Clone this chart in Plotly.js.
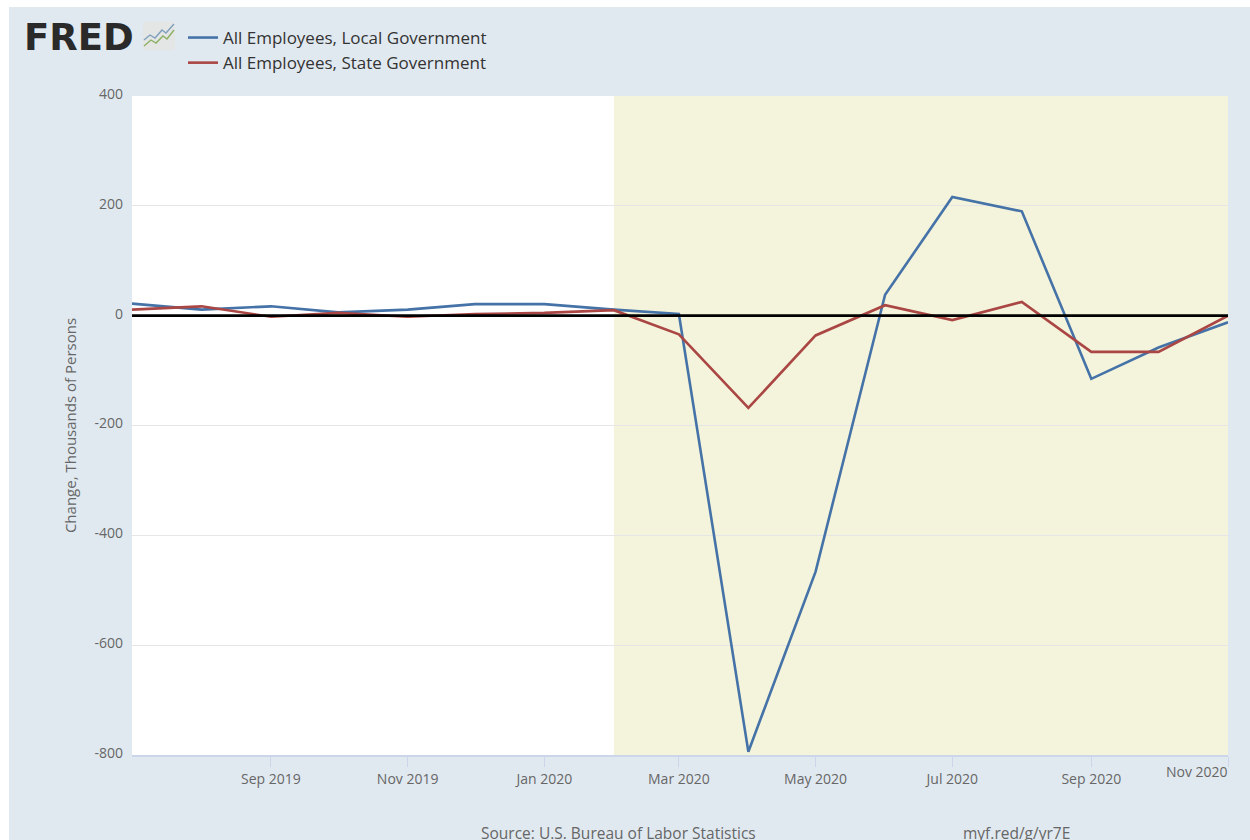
<!DOCTYPE html>
<html>
<head>
<meta charset="utf-8">
<script src="https://cdn.plot.ly/plotly-3.0.1.min.js"></script>
<style>
html,body{margin:0;padding:0;background:#fff;overflow:hidden;width:1250px;height:840px}
#chart{position:absolute;left:9px;top:7px;width:1241px;height:833px}
</style>
</head>
<body>
<div id="chart"></div>
<script>
const months = ['2019-07-01','2019-08-01','2019-09-01','2019-10-01','2019-11-01','2019-12-01','2020-01-01','2020-02-01','2020-03-01','2020-04-01','2020-05-01','2020-06-01','2020-07-01','2020-08-01','2020-09-01','2020-10-01','2020-11-01'];
const localGov = [22,11,17,6,11,21,21,11,3,-794,-466,38,216,190,-115,-58,-12];
const stateGov = [11,17,-2,5,-2,3,5,10,-34,-168,-36,19,-8,25,-66,-66,0];
const xTickVals = ['2019-09-01','2019-11-01','2020-01-01','2020-03-01','2020-05-01','2020-07-01','2020-09-01','2020-11-01'];
const xTickText = ['Sep 2019','Nov 2019','Jan 2020','Mar 2020','May 2020','Jul 2020','Sep 2020',''];
const lastTickLabel = 'Nov 2020';
const yTickVals = [-800,-600,-400,-200,0,200,400];
const yTickText = ['-800','-600','-400','-200','0','200','400'];
const recessionStart = '2020-02-01';
const recessionEnd = '2020-11-01';

const W = 1241, H = 833;
const m = {l:123, r:22, t:89, b:85};
const px = v => (v - m.l) / (W - m.l - m.r);
const py = v => (H - m.b - v) / (H - m.t - m.b);
const F = '"Open Sans", sans-serif';

const iconSvg = "<svg xmlns='http://www.w3.org/2000/svg' width='32' height='28'>" +
 "<rect x='0' y='0' width='32' height='28' rx='2' fill='#e4e6e6'/>" +
 "<polyline points='1,18 7,13 12,16 19,8 23,11 31,2' fill='none' stroke='#7fa0bd' stroke-width='1.4'/>" +
 "<polyline points='1,24 8,18 13,21 20,14 24,17 31,8' fill='none' stroke='#8cb063' stroke-width='1.4'/></svg>";

const traces = [
 {x:months, y:localGov, name:'All Employees, Local Government', type:'scatter', mode:'lines', line:{color:'#4572a7', width:2.6}, hoverinfo:'x+y'},
 {x:months, y:stateGov, name:'All Employees, State Government', type:'scatter', mode:'lines', line:{color:'#aa4643', width:2.6}, hoverinfo:'x+y'}
];

const layout = {
 width:W, height:H, margin:m,
 paper_bgcolor:'#e1e9f0', plot_bgcolor:'#ffffff',
 font:{family:F, color:'#666666', size:14},
 showlegend:true,
 legend:{x:px(174), y:py(13), xanchor:'left', yanchor:'top', bgcolor:'rgba(0,0,0,0)', orientation:'v',
   font:{family:F, size:17, color:'#333333'}, itemwidth:30, tracegroupgap:0},
 xaxis:{type:'date', range:[months[0], months[months.length-1]], tickmode:'array', tickvals:xTickVals, ticktext:xTickText,
   showgrid:false, zeroline:false, showline:true, linecolor:'#ccd6eb', linewidth:1.5,
   ticks:'outside', ticklen:10, tickcolor:'#ccd6eb', tickwidth:1, tickfont:{family:F,size:14,color:'#666666'}, tickangle:0},
 yaxis:{range:[-800,400], tickmode:'array', tickvals:yTickVals, ticktext:yTickText,
   showgrid:true, gridcolor:'#e6e6e6', gridwidth:1, zeroline:false, showline:false, ticks:'',
   tickfont:{family:F,size:14,color:'#666666'}, ticklabelshift:-2, ticklabelstandoff:8,
   title:{text:'Change, Thousands of Persons', font:{family:F,size:15,color:'#666666'}, standoff:14}},
 shapes:[
  {type:'rect', xref:'x', yref:'paper', x0:recessionStart, x1:recessionEnd, y0:0, y1:1, fillcolor:'#f4f4dc', line:{width:0}, layer:'below'},
  {type:'line', xref:'paper', yref:'y', x0:0, x1:1, y0:0, y1:0, line:{color:'#000000', width:2.6}, layer:'above'}
 ],
 annotations:[
  {text:'<b>FRED</b>', xref:'paper', yref:'paper', x:px(13), y:py(30), xanchor:'left', yanchor:'middle', showarrow:false,
   font:{family:'"DejaVu Sans", sans-serif', size:37, color:'#2a2a2a'}},
  {text:lastTickLabel, xref:'x', yref:'paper', x:months[months.length-1], y:py(764), xanchor:'right', yanchor:'middle', showarrow:false,
   font:{family:F,size:14,color:'#666666'}, xshift:2},
  {text:'Source: U.S. Bureau of Labor Statistics', xref:'paper', yref:'paper', x:px(470), y:py(826), xanchor:'left', yanchor:'middle', showarrow:false,
   font:{family:F,size:15.5,color:'#666666'}},
  {text:'myf.red/g/yr7E', xref:'paper', yref:'paper', x:px(952), y:py(826), xanchor:'left', yanchor:'middle', showarrow:false,
   font:{family:F,size:15.5,color:'#666666'}}
 ],
 images:[
  {source:'data:image/svg+xml;utf8,'+encodeURIComponent(iconSvg), xref:'paper', yref:'paper', x:px(134), y:py(15), sizex:32/(W-m.l-m.r), sizey:28/(H-m.t-m.b), xanchor:'left', yanchor:'top', layer:'above'}
 ]
};
Plotly.newPlot('chart', traces, layout, {displayModeBar:false, staticPlot:false});
</script>
</body>
</html>
